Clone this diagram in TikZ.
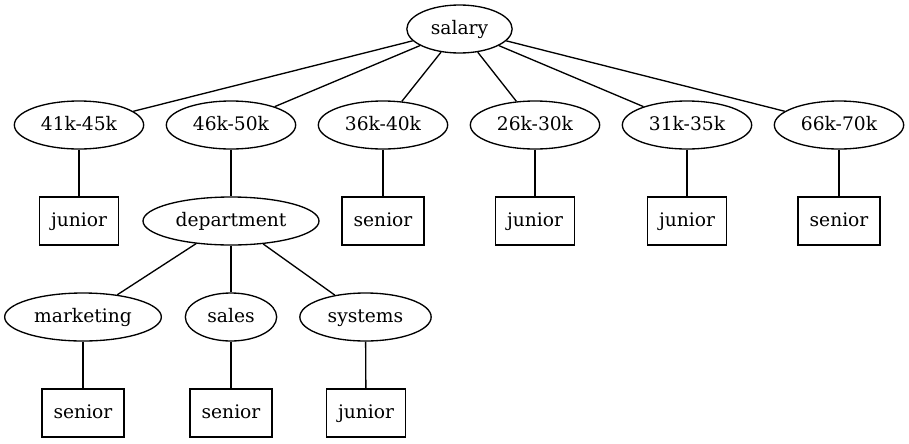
\documentclass[tikz,border=0pt]{standalone}
\usepackage{fontspec}
\setmainfont{DejaVu Serif}
\usetikzlibrary{shapes.geometric}
\begin{document}
\begin{tikzpicture}[x=0.75pt,y=-0.75pt,line width=1pt,
  lbl/.style={font=\fontsize{14pt}{16pt}\selectfont,text height=10.5pt,text depth=3pt},
  el/.style={lbl,draw,ellipse,inner sep=0pt,minimum height=36pt},
  bx/.style={lbl,draw,rectangle,inner sep=0pt,minimum height=36pt}]
\useasboundingbox (0,0) rectangle (909,443);
% root
\node[el,minimum width=79pt] (salary) at (459.5,29) {salary};
% row 2
\node[el,minimum width=97pt] (s41) at (79,125) {41k-45k};
\node[el,minimum width=97pt] (s46) at (231,125) {46k-50k};
\node[el,minimum width=97pt] (s36) at (383,125) {36k-40k};
\node[el,minimum width=97pt] (s26) at (535,125) {26k-30k};
\node[el,minimum width=97pt] (s31) at (687,125) {31k-35k};
\node[el,minimum width=97pt] (s66) at (839,125) {66k-70k};
% row 3
\node[bx,minimum width=59pt] (j41) at (79,221) {junior};
\node[el,minimum width=132pt] (dept) at (231,221) {department};
\node[bx,minimum width=61.5pt] (n36) at (383,221) {senior};
\node[bx,minimum width=59pt] (j26) at (535,221) {junior};
\node[bx,minimum width=59pt] (j31) at (687,221) {junior};
\node[bx,minimum width=61.5pt] (n66) at (839,221) {senior};
% row 4
\node[el,minimum width=117.5pt] (mkt) at (83,317) {marketing};
\node[el,minimum width=68.5pt] (sales) at (231,317) {sales};
\node[el,minimum width=98.5pt] (sys) at (365.5,317) {systems};
% row 5
\node[bx,minimum width=61.5pt] (nmkt) at (83,413) {senior};
\node[bx,minimum width=61.5pt] (nsales) at (231,413) {senior};
\node[bx,minimum width=59pt] (jsys) at (366,413) {junior};
% edges
\draw (salary) -- (s41);
\draw (salary) -- (s46);
\draw (salary) -- (s36);
\draw (salary) -- (s26);
\draw (salary) -- (s31);
\draw (salary) -- (s66);
\draw (s41) -- (j41);
\draw (s46) -- (dept);
\draw (s36) -- (n36);
\draw (s26) -- (j26);
\draw (s31) -- (j31);
\draw (s66) -- (n66);
\draw (dept) -- (mkt);
\draw (dept) -- (sales);
\draw (dept) -- (sys);
\draw (mkt) -- (nmkt);
\draw (sales) -- (nsales);
\draw (sys) -- (jsys);
\end{tikzpicture}
\end{document}
